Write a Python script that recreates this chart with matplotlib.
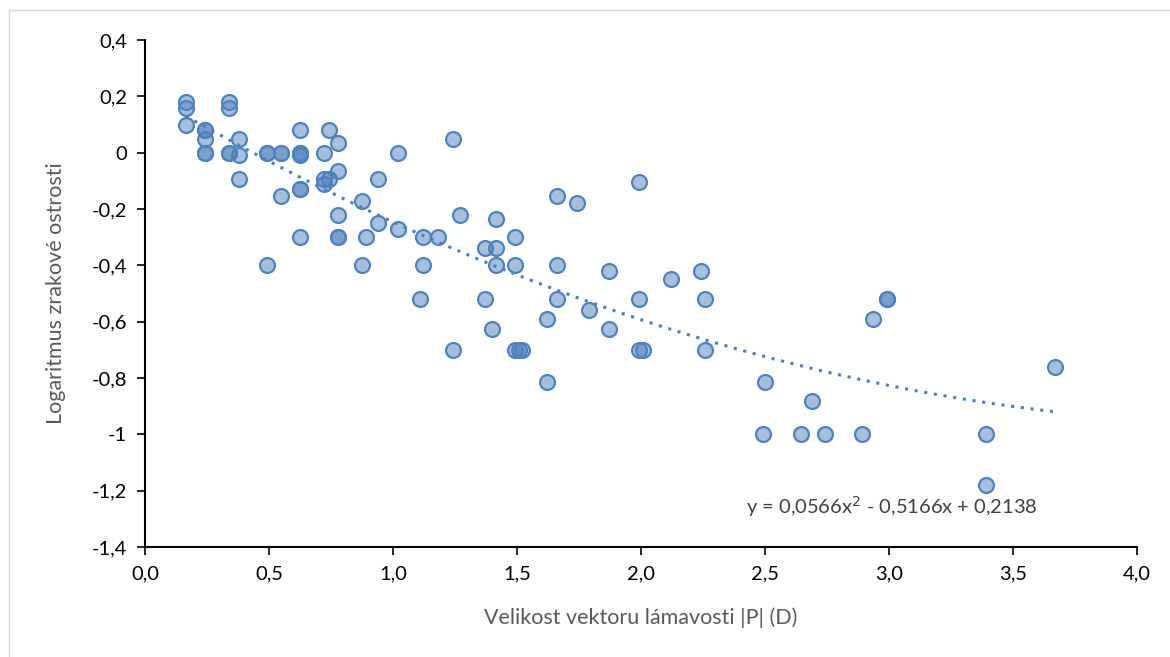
import matplotlib.pyplot as plt
from matplotlib.patches import Rectangle
from matplotlib.ticker import FuncFormatter
import numpy as np

plt.rcParams['font.family'] = ['Lato', 'DejaVu Sans']

# |P| (D) and log visual acuity
x = [0.165, 0.165, 0.165, 0.24, 0.24, 0.24, 0.24, 0.24,
     0.34, 0.34, 0.34, 0.34, 0.38, 0.38, 0.38,
     0.49, 0.49, 0.49, 0.55, 0.55, 0.55,
     0.625, 0.625, 0.625, 0.625, 0.625, 0.625, 0.625,
     0.72, 0.72, 0.72, 0.74, 0.74, 0.78, 0.78, 0.78, 0.78, 0.78,
     0.875, 0.875, 0.89, 0.94, 0.94, 1.02, 1.02,
     1.11, 1.12, 1.12, 1.18, 1.24, 1.24, 1.27,
     1.37, 1.37, 1.40, 1.415, 1.415, 1.415,
     1.49, 1.49, 1.49, 1.51, 1.52,
     1.62, 1.62, 1.66, 1.66, 1.66, 1.74, 1.79, 1.87, 1.87,
     1.99, 1.99, 1.99, 2.01, 2.12, 2.24, 2.26, 2.26,
     2.49, 2.50, 2.645, 2.69, 2.74, 2.89, 2.935, 2.99, 2.99,
     3.39, 3.39, 3.67]
y = [0.18, 0.16, 0.10, 0.08, 0.08, 0.05, 0.0, 0.0,
     0.18, 0.16, 0.0, 0.0, 0.05, -0.01, -0.095,
     0.0, 0.0, -0.40, 0.0, 0.0, -0.155,
     0.08, 0.0, 0.0, -0.01, -0.13, -0.13, -0.30,
     0.0, -0.095, -0.11, -0.095, 0.08, 0.035, -0.065, -0.22, -0.30, -0.30,
     -0.17, -0.40, -0.30, -0.095, -0.25, 0.0, -0.27,
     -0.52, -0.30, -0.40, -0.30, 0.05, -0.70, -0.22,
     -0.34, -0.52, -0.625, -0.235, -0.34, -0.40,
     -0.30, -0.40, -0.70, -0.70, -0.70,
     -0.59, -0.815, -0.155, -0.40, -0.52, -0.18, -0.56, -0.42, -0.625,
     -0.105, -0.52, -0.70, -0.70, -0.45, -0.42, -0.52, -0.70,
     -1.0, -0.815, -1.0, -0.88, -1.0, -1.0, -0.59, -0.52, -0.52,
     -1.0, -1.18, -0.76]

# trendline coefficients shown in the chart
a, b, c = 0.0566, -0.5166, 0.2138

fig = plt.figure(figsize=(11.7, 6.57), dpi=100)
fig.patches.append(Rectangle((9 / 1170, -0.1), 1.2, 1 - 10 / 657 + 0.1,
                             transform=fig.transFigure, fill=False,
                             edgecolor='#d9d9d9', linewidth=1))
ax = fig.add_axes([145 / 1170, 1 - 547 / 657, (1137 - 145) / 1170, (547 - 40) / 657])

ax.scatter(x, y, s=115, facecolor=(0.31, 0.506, 0.741, 0.5),
           edgecolor='#4f81bd', linewidth=1.6, zorder=3)

xt = np.linspace(min(x), max(x), 200)
ax.plot(xt, a * xt ** 2 + b * xt + c, linestyle=(0, (1, 2.2)), color='#4a7ebb',
        linewidth=2.2, zorder=2)

ax.set_xlim(0, 4)
ax.set_ylim(-1.4, 0.4)
ax.set_xticks(np.arange(0, 4.01, 0.5))
ax.set_yticks(np.arange(-1.4, 0.41, 0.2))
ax.xaxis.set_major_formatter(FuncFormatter(lambda v, p: f'{v:.1f}'.replace('.', ',')))


def yfmt(v, p):
    v = round(v, 1)
    if v == int(v):
        return f'{int(v)}'
    return f'{v:.1f}'.replace('.', ',')


ax.yaxis.set_major_formatter(FuncFormatter(yfmt))

for s in ['top', 'right']:
    ax.spines[s].set_visible(False)
for s in ['left', 'bottom']:
    ax.spines[s].set_linewidth(1.5)
    ax.spines[s].set_color('black')
ax.tick_params(direction='out', length=6, width=1.2, labelsize=14.5,
               colors='black', pad=7)

ax.set_xlabel('Velikost vektoru lámavosti |P| (D)', fontsize=15.5, color='#595959',
              labelpad=18)
ax.set_ylabel('Logaritmus zrakové ostrosti', fontsize=15.5, color='#595959',
              labelpad=18)

ax.text(3.6, -1.255, 'y = 0,0566x$^2$ - 0,5166x + 0,2138', fontsize=14.5,
        color='#404040', ha='right', va='center')

fig.savefig('out.png', dpi=100)
